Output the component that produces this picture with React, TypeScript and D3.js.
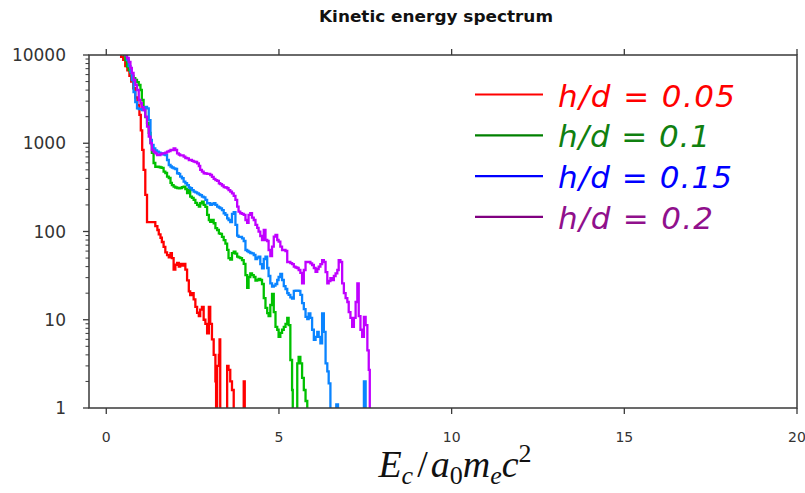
import React from 'react';
import * as d3 from 'd3';

const chartTitle = 'Kinetic energy spectrum';
const xTickValues = [0, 5, 10, 15, 20];
const yTickValues = [1, 10, 100, 1000, 10000];
const legendLabels = ['h/d = 0.05', 'h/d = 0.1', 'h/d = 0.15', 'h/d = 0.2'];

// [energy E_c/(a0 me c^2), count] — histogram steps, 0 = empty bin
const hd005: [number, number][] = [
  [0.4, 12000], [0.43, 9500], [0.49, 8800], [0.55, 7500], [0.61, 6700], [0.67, 5800], [0.72, 5000],
  [0.78, 4200], [0.84, 3300], [0.9, 2700], [0.96, 2100], [1.0, 1400], [1.04, 840], [1.08, 500],
  [1.13, 260], [1.18, 128], [1.42, 115], [1.48, 104], [1.52, 93], [1.57, 85], [1.61, 76], [1.66, 67],
  [1.71, 58], [1.76, 54], [1.81, 51], [1.86, 57], [1.9, 50], [1.95, 37], [2.0, 42], [2.05, 44],
  [2.1, 40], [2.14, 43], [2.19, 41], [2.24, 43], [2.29, 37], [2.34, 28], [2.39, 21], [2.43, 19],
  [2.48, 20], [2.53, 17], [2.58, 14], [2.63, 12], [2.68, 11], [2.72, 13], [2.77, 14], [2.82, 10],
  [2.87, 9], [2.92, 7], [2.97, 14], [3.01, 9], [3.06, 6], [3.11, 4], [3.16, 2], [3.18, 0],
  [3.21, 3], [3.26, 4], [3.28, 6], [3.3, 0], [3.5, 3], [3.54, 2.7], [3.59, 2], [3.64, 1.6],
  [3.69, 0], [3.98, 2], [4.01, 0],
];

const hd01: [number, number][] = [
  [0.45, 12000], [0.5, 10000], [0.55, 8770], [0.6, 7380], [0.65, 6760], [0.7, 6250], [0.74, 5780],
  [0.79, 5480], [0.84, 5210], [0.89, 4940], [0.94, 4570], [0.99, 4010], [1.03, 3090], [1.08, 2570],
  [1.13, 1980], [1.18, 1700], [1.23, 1310], [1.28, 1010], [1.32, 776], [1.37, 597], [1.42, 542],
  [1.52, 538], [1.57, 531], [1.61, 525], [1.66, 476], [1.71, 460], [1.76, 418], [1.81, 404],
  [1.86, 355], [1.9, 336], [1.95, 322], [2.0, 315], [2.05, 311], [2.1, 309], [2.14, 311], [2.19, 319],
  [2.24, 322], [2.29, 303], [2.34, 273], [2.39, 295], [2.43, 248], [2.48, 240], [2.53, 228],
  [2.58, 211], [2.63, 200], [2.68, 191], [2.72, 209], [2.77, 218], [2.82, 200], [2.87, 190],
  [2.92, 154], [2.97, 135], [3.01, 129], [3.06, 135], [3.11, 124], [3.16, 109], [3.21, 104],
  [3.26, 95], [3.3, 94], [3.35, 87], [3.4, 80], [3.45, 73], [3.5, 62], [3.54, 50], [3.59, 48],
  [3.64, 57], [3.69, 59], [3.74, 56], [3.79, 52], [3.83, 51], [3.88, 50], [3.93, 47.5], [3.98, 43],
  [4.03, 32], [4.08, 23], [4.12, 30.5], [4.17, 33.6], [4.22, 32], [4.27, 30.5], [4.32, 27.8],
  [4.37, 28.2], [4.41, 29], [4.46, 28.2], [4.51, 25.4], [4.56, 17.6], [4.61, 13.6], [4.66, 11.9],
  [4.7, 11], [4.75, 14.7], [4.8, 19.6], [4.85, 12.2], [4.9, 8.3], [4.95, 7.7], [4.99, 6.4],
  [5.04, 7.1], [5.09, 7.7], [5.14, 8.3], [5.19, 9], [5.24, 10.5], [5.28, 8.7], [5.33, 3.5],
  [5.38, 1.6], [5.4, 0], [5.53, 3.2], [5.57, 3.8], [5.62, 3.2], [5.67, 2.2], [5.72, 1.6],
  [5.77, 1.2], [5.82, 0],
];

const hd015: [number, number][] = [
  [0.5, 12000], [0.55, 10000], [0.6, 8770], [0.65, 7500], [0.7, 6420], [0.74, 5210], [0.79, 3810],
  [0.84, 2930], [0.89, 2490], [0.94, 2440], [1.03, 2380], [1.08, 2490], [1.13, 2590], [1.18, 2490],
  [1.23, 1830], [1.28, 1090], [1.32, 955], [1.37, 877], [1.42, 828], [1.47, 802], [1.52, 785],
  [1.57, 769], [1.66, 746], [1.71, 736], [1.76, 646], [1.81, 567], [1.86, 545], [1.9, 531],
  [1.95, 520], [2.0, 511], [2.05, 457], [2.1, 449], [2.14, 418], [2.19, 401], [2.24, 367],
  [2.29, 352], [2.34, 336], [2.39, 315], [2.43, 309], [2.48, 295], [2.53, 283], [2.58, 277],
  [2.63, 271], [2.68, 263], [2.72, 259], [2.77, 248], [2.82, 243], [2.87, 228], [2.92, 209],
  [3.01, 200], [3.06, 205], [3.11, 209], [3.16, 200], [3.21, 191], [3.26, 187], [3.3, 183],
  [3.35, 175], [3.4, 161], [3.45, 154], [3.5, 141], [3.54, 135], [3.59, 128], [3.64, 158],
  [3.69, 166], [3.74, 119], [3.79, 90], [3.83, 87], [3.88, 86.7], [3.93, 83.7], [3.98, 78],
  [4.03, 61.7], [4.08, 60.1], [4.12, 58.6], [4.17, 57.1], [4.22, 56.6], [4.27, 54.2], [4.32, 48.8],
  [4.37, 50.7], [4.41, 51.8], [4.46, 42.8], [4.51, 38.3], [4.56, 48.8], [4.61, 51.8], [4.66, 38.6],
  [4.7, 31.3], [4.75, 25.9], [4.8, 23.7], [4.85, 24.4], [4.9, 25.4], [4.95, 28.2], [4.99, 30.5],
  [5.04, 33], [5.09, 28.2], [5.14, 24.1], [5.19, 22.3], [5.24, 20], [5.28, 19.1], [5.33, 17.9],
  [5.38, 17.4], [5.43, 21.2], [5.48, 21.4], [5.57, 21.2], [5.62, 19.1], [5.67, 15.4], [5.72, 13.2],
  [5.77, 10.8], [5.82, 10.2], [5.86, 11.8], [5.91, 10.5], [5.96, 7.7], [6.01, 5.9], [6.06, 6.4],
  [6.11, 7.3], [6.15, 6.4], [6.2, 5.4], [6.25, 11.8], [6.3, 7.3], [6.35, 3.2], [6.4, 2.6],
  [6.44, 1.9], [6.49, 0], [6.66, 1.1], [6.71, 0], [7.46, 2], [7.51, 0],
];

const hd02: [number, number][] = [
  [0.5, 12000], [0.55, 10000], [0.6, 9250], [0.65, 8330], [0.7, 7130], [0.74, 6250], [0.79, 5210],
  [0.84, 4570], [0.89, 4010], [0.94, 3090], [0.99, 2840], [1.03, 2570], [1.08, 2380], [1.13, 2000],
  [1.18, 1540], [1.23, 1190], [1.28, 1000], [1.32, 839], [1.37, 796], [1.42, 769], [1.47, 736],
  [1.57, 755], [1.61, 769], [1.71, 785], [1.76, 802], [1.81, 817], [1.86, 839], [1.95, 877],
  [2.0, 839], [2.05, 769], [2.1, 746], [2.14, 727], [2.24, 705], [2.29, 681], [2.34, 675],
  [2.39, 646], [2.48, 630], [2.53, 618], [2.58, 613], [2.63, 593], [2.68, 552], [2.72, 498],
  [2.77, 476], [2.82, 457], [2.87, 454], [2.92, 449], [3.01, 437], [3.06, 415], [3.11, 394],
  [3.16, 383], [3.21, 374], [3.26, 352], [3.3, 345], [3.35, 332], [3.4, 319], [3.45, 315],
  [3.5, 309], [3.54, 295], [3.59, 283], [3.64, 271], [3.69, 253], [3.74, 228], [3.79, 191],
  [3.83, 168], [3.88, 161], [3.93, 158], [3.98, 154], [4.03, 135], [4.08, 125], [4.12, 154],
  [4.17, 161], [4.22, 144], [4.27, 135], [4.32, 119], [4.37, 110], [4.41, 99.5], [4.46, 88.9],
  [4.51, 80.1], [4.56, 104], [4.61, 80.1], [4.66, 78], [4.7, 61.7], [4.75, 52.8], [4.8, 67.3],
  [4.85, 87.3], [4.9, 91.3], [4.95, 80.1], [4.99, 76.6], [5.04, 67.3], [5.09, 61.7], [5.19, 60.1],
  [5.24, 45.1], [5.33, 43.9], [5.38, 42.8], [5.43, 39.9], [5.48, 39.1], [5.53, 38.6], [5.57, 36.6],
  [5.62, 33.9], [5.67, 25.9], [5.72, 36.6], [5.77, 45.1], [5.91, 43.5], [5.96, 41.7], [6.01, 38.6],
  [6.06, 35], [6.11, 37.6], [6.15, 39.9], [6.2, 42.8], [6.25, 47.5], [6.3, 45.1], [6.35, 34.7],
  [6.4, 25.9], [6.44, 27.5], [6.49, 29.7], [6.54, 28.2], [6.59, 31.3], [6.64, 33.6], [6.69, 36.6],
  [6.73, 47.5], [6.78, 45.1], [6.83, 25.9], [6.88, 20], [6.93, 17.6], [6.98, 15.9], [7.02, 12.2],
  [7.07, 10.5], [7.12, 8.3], [7.17, 10.5], [7.22, 15.9], [7.27, 25.9], [7.31, 11], [7.36, 7.7],
  [7.41, 6.4], [7.46, 10.8], [7.51, 8.7], [7.56, 4.5], [7.6, 2.7], [7.63, 0],
];

const seriesData = [hd005, hd01, hd015, hd02];
const seriesColors = ['#ff0000', '#00c000', '#0a84ff', '#c000ff'];
const legendLineColors = ['#ff0000', '#008000', '#0000ff', '#800080'];
const legendTextColors = ['#ff0000', '#108010', '#0000ff', '#90108c'];

export default function App() {
  const W = 805, H = 493;
  const L = 89, R = 797, T = 55, B = 408;
  const x = d3.scaleLinear().domain([-0.5, 20]).range([L, R]);
  const y = d3.scaleLog().domain([1, 10000]).range([B, T]);
  const line = d3
    .line<[number, number]>()
    .x((d) => x(d[0]))
    .y((d) => (d[1] <= 0 ? B + 4 : y(d[1])))
    .curve(d3.curveStepAfter);
  const minorTicks = y.ticks().filter((v) => !yTickValues.includes(v));
  const axisColor = '#3a3a3a';
  const legendWidths = [177, 152, 174, 155];

  return (
    <svg width={W} height={H} style={{ position: 'absolute', left: 0, top: 0, background: '#fff' }}>
      <rect x={0} y={0} width={W} height={H} fill="#fff" />
      <defs>
        <clipPath id="plotclip">
          <rect x={L} y={T} width={R - L} height={B - T} />
        </clipPath>
      </defs>
      <text x={436} y={22} textAnchor="middle" fontFamily="'DejaVu Sans', sans-serif" fontWeight="bold"
        fontSize={15} fill="#111" textLength={234} lengthAdjust="spacingAndGlyphs">{chartTitle}</text>

      <g clipPath="url(#plotclip)">
        {seriesData.map((s, i) => (
          <path key={i} d={line(s) || ''} fill="none" stroke={seriesColors[i]} strokeWidth={2.3} strokeLinejoin="miter" />
        ))}
      </g>

      {/* frame */}
      <rect x={L} y={T} width={R - L} height={B - T} fill="none" stroke={axisColor} strokeWidth={1.5} />
      {xTickValues.map((v) => (
        <g key={'xt' + v}>
          <line x1={x(v)} x2={x(v)} y1={B} y2={B + 6} stroke={axisColor} strokeWidth={1.3} />
          <line x1={x(v)} x2={x(v)} y1={T} y2={T - 6} stroke={axisColor} strokeWidth={1.3} />
          <text x={x(v)} y={442} textAnchor="middle" fontFamily="'DejaVu Sans', sans-serif" fontSize={14} fill="#333">{v}</text>
        </g>
      ))}
      {yTickValues.map((v) => (
        <g key={'yt' + v}>
          <line x1={L} x2={L - 6} y1={y(v)} y2={y(v)} stroke={axisColor} strokeWidth={1.3} />
          <text x={66} y={y(v) + 6} textAnchor="end" fontFamily="'DejaVu Sans', sans-serif" fontSize={17} fill="#333">{v}</text>
        </g>
      ))}
      {minorTicks.map((v) => (
        <line key={'ym' + v} x1={L} x2={L - 3.5} y1={y(v)} y2={y(v)} stroke={axisColor} strokeWidth={1} />
      ))}

      {/* legend */}
      {legendLabels.map((lab, i) => {
        const ly = 94.5 + i * 40.8;
        return (
          <g key={'lg' + i}>
            <line x1={475} x2={543} y1={ly} y2={ly} stroke={legendLineColors[i]} strokeWidth={2.2} />
            <text x={558} y={ly + 12} fontFamily="'DejaVu Sans', sans-serif" fontStyle="italic" fontSize={31}
              fill={legendTextColors[i]} textLength={legendWidths[i]} lengthAdjust="spacing">{lab}</text>
          </g>
        );
      })}

      {/* x axis label */}
      <text x={455} y={477} textAnchor="middle" fontFamily="'Liberation Serif', 'DejaVu Serif', serif" fontSize={38} fill="#111">
        <tspan fontStyle="italic">E</tspan>
        <tspan fontStyle="italic" fontSize={26} dy={7}>c</tspan>
        <tspan dy={-7} dx={4}>/</tspan>
        <tspan fontStyle="italic" dx={3}>a</tspan>
        <tspan fontSize={26} dy={7}>0</tspan>
        <tspan fontStyle="italic" dy={-7}>m</tspan>
        <tspan fontStyle="italic" fontSize={26} dy={7}>e</tspan>
        <tspan fontStyle="italic" dy={-7}>c</tspan>
        <tspan fontSize={26} dy={-15}>2</tspan>
      </text>
    </svg>
  );
}
